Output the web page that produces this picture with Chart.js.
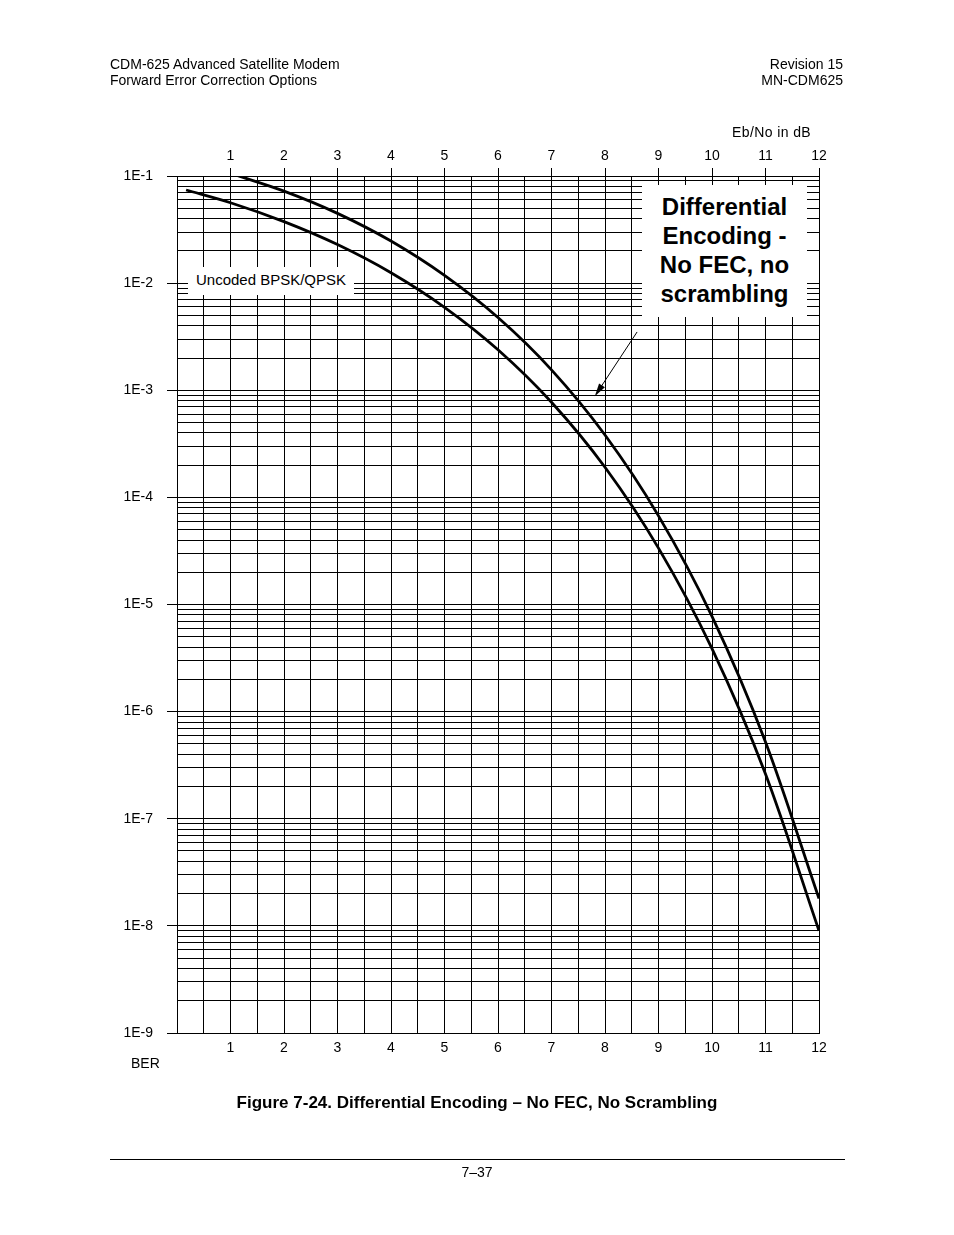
<!DOCTYPE html>
<html>
<head>
<meta charset="utf-8">
<script src="https://cdn.jsdelivr.net/npm/chart.js@4.4.1/dist/chart.umd.min.js"></script>
<style>
  body { margin: 0; background: #fff; font-family: Arial, "Liberation Sans", sans-serif; color: #000; }
  #page { position: relative; width: 954px; height: 1235px; overflow: hidden; }
  #chart { position: absolute; left: 0; top: 0; }
  .t { position: absolute; white-space: nowrap; font-size: 14px; line-height: 16px; }
  .box { position: absolute; background: #fff; text-align: center; }
</style>
</head>
<body>
<div id="page">
  <canvas id="chart" width="954" height="1235"></canvas>

  <div class="t" style="left:110px; top:56px;">CDM-625 Advanced Satellite Modem</div>
  <div class="t" style="left:110px; top:72px;">Forward Error Correction Options</div>
  <div class="t" style="right:111px; top:56px; text-align:right;">Revision 15</div>
  <div class="t" style="right:111px; top:72px; text-align:right;">MN-CDM625</div>

  <div class="t" style="left:732px; top:124px; font-size:14px; letter-spacing:0.4px;">Eb/No in dB</div>
  <div class="t" style="left:131px; top:1055px; font-size:14px;">BER</div>

  <div class="box" style="left:642px; top:185px; width:165px; height:132px; padding-top:7px; box-sizing:border-box; font-weight:bold; font-size:24px; line-height:29px;">Differential<br>Encoding -<br>No FEC, no<br>scrambling</div>
  <div class="box" style="left:188px; top:267px; width:166px; height:28px; font-size:15px; line-height:26px;">Uncoded BPSK/QPSK</div>

  <div class="t" style="left:0; width:954px; top:1093px; text-align:center; font-weight:bold; font-size:17px; line-height:20px;">Figure 7-24. Differential Encoding – No FEC, No Scrambling</div>
  <div style="position:absolute; left:110px; top:1159px; width:735px; height:1px; background:#000;"></div>
  <div class="t" style="left:0; width:954px; top:1164px; text-align:center; font-size:14px;">7–37</div>
</div>

<script>
// Eb/No (dB) axis
const ebNoTicks = [1, 2, 3, 4, 5, 6, 7, 8, 9, 10, 11, 12];
const berDecades = [-9, -8, -7, -6, -5, -4, -3, -2, -1];

// differential encoding, no FEC (upper curve)
const diffEbNo = [1, 2, 3, 4, 5, 6, 7, 8, 9, 10, 11, 12];
const diffBer = [0.106, 0.0722, 0.0448, 0.0247, 0.0118, 0.00477, 0.00155, 3.82e-4, 6.72e-5, 7.74e-6, 5.2e-7, 1.8e-8];

// uncoded BPSK/QPSK (lower curve)
const uncodedEbNo = [0.17, 1, 2, 3, 4, 5, 6, 7, 8, 9, 10, 11, 12];
const uncodedBer = [0.074, 0.0563, 0.0375, 0.0229, 0.0125, 0.00595, 0.00239, 7.73e-4, 1.91e-4, 3.36e-5, 3.87e-6, 2.61e-7, 9.0e-9];

const FONT = { family: "Arial, 'Liberation Sans', sans-serif", size: 14 };

const isDecade = (v) => {
  const e = Math.round(Math.log10(v));
  return Math.abs(v / Math.pow(10, e) - 1) < 1e-6;
};

const toPoints = (xs, ys) => xs.map((x, i) => ({ x: x, y: ys[i] }));

// arrow from the label box to the upper curve
const arrowPlugin = {
  id: "arrow",
  afterDatasetsDraw(chart) {
    const { ctx, scales } = chart;
    const x0 = scales.x.getPixelForValue(8.6), y0 = scales.y.getPixelForValue(3.5e-3);
    const x1 = scales.x.getPixelForValue(7.81), y1 = scales.y.getPixelForValue(8.8e-4);
    const a = Math.atan2(y1 - y0, x1 - x0);
    ctx.save();
    ctx.strokeStyle = "#000";
    ctx.fillStyle = "#000";
    ctx.lineWidth = 1;
    ctx.beginPath();
    ctx.moveTo(x0, y0);
    ctx.lineTo(x1 - 8 * Math.cos(a), y1 - 8 * Math.sin(a));
    ctx.stroke();
    ctx.beginPath();
    ctx.moveTo(x1, y1);
    ctx.lineTo(x1 - 13 * Math.cos(a) + 3.5 * Math.sin(a), y1 - 13 * Math.sin(a) - 3.5 * Math.cos(a));
    ctx.lineTo(x1 - 13 * Math.cos(a) - 3.5 * Math.sin(a), y1 - 13 * Math.sin(a) + 3.5 * Math.cos(a));
    ctx.closePath();
    ctx.fill();
    ctx.restore();
  },
};

new Chart(document.getElementById("chart"), {
  type: "line",
  data: {
    datasets: [
      {
        label: "Differential Encoding",
        data: toPoints(diffEbNo, diffBer),
        borderColor: "#000",
        borderWidth: 2.8,
        pointRadius: 0,
        cubicInterpolationMode: "monotone",
      },
      {
        label: "Uncoded BPSK/QPSK",
        data: toPoints(uncodedEbNo, uncodedBer),
        borderColor: "#000",
        borderWidth: 2.8,
        pointRadius: 0,
        cubicInterpolationMode: "monotone",
      },
    ],
  },
  options: {
    responsive: false,
    animation: false,
    layout: { padding: { left: 100, right: 135, top: 130, bottom: 172 } },
    plugins: { legend: { display: false }, tooltip: { enabled: false } },
    scales: {
      x: {
        type: "linear",
        position: "bottom",
        min: 0,
        max: 12,
        afterFit: (s) => { s.height = 30; },
        ticks: {
          stepSize: 0.5,
          autoSkip: false,
          maxRotation: 0,
          padding: 7,
          color: "#000",
          font: FONT,
          callback: (v) => (Number.isInteger(v) && ebNoTicks.includes(v) ? String(v) : ""),
        },
        grid: { color: "#000", lineWidth: 1, drawTicks: false },
        border: { color: "#000", width: 1 },
      },
      x2: {
        type: "linear",
        position: "top",
        min: 0,
        max: 12,
        afterFit: (s) => { s.height = 46; },
        ticks: {
          stepSize: 0.5,
          autoSkip: false,
          maxRotation: 0,
          padding: 3,
          color: "#000",
          font: FONT,
          callback: (v) => (Number.isInteger(v) && ebNoTicks.includes(v) ? String(v) : ""),
        },
        grid: {
          drawOnChartArea: false,
          tickLength: 8,
          tickColor: (c) => (c.tick && Number.isInteger(c.tick.value) && c.tick.value > 0 ? "#000" : "rgba(0,0,0,0)"),
        },
        border: { color: "#000", width: 1 },
      },
      y: {
        type: "logarithmic",
        position: "left",
        min: 1e-9,
        max: 1e-1,
        afterFit: (s) => { s.width = 77; },
        afterBuildTicks: (s) => {
          const ticks = [];
          berDecades.forEach((e) => {
            const top = e === berDecades[berDecades.length - 1] ? 1 : 9;
            for (let k = 1; k <= top; k++) ticks.push({ value: k * Math.pow(10, e) });
          });
          s.ticks = ticks;
        },
        ticks: {
          autoSkip: false,
          padding: 14,
          color: "#000",
          font: FONT,
          callback: (v) => (isDecade(v) ? "1E" + Math.round(Math.log10(v)) : ""),
        },
        grid: {
          color: "#000",
          lineWidth: 1,
          tickLength: 10,
          tickColor: (c) => (c.tick && isDecade(c.tick.value) ? "#000" : "rgba(0,0,0,0)"),
        },
        border: { color: "#000", width: 1 },
      },
    },
  },
  plugins: [arrowPlugin],
});
</script>
</body>
</html>
